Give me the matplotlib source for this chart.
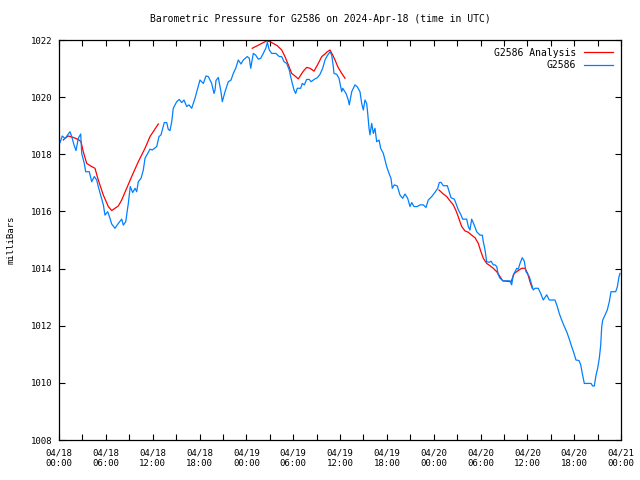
import datetime as dt
import numpy as np
import matplotlib
matplotlib.use('Agg')
import matplotlib.pyplot as plt
import matplotlib.dates as mdates

# hours after 2024-04-18 00:00 UTC, pressure in mb
obs_hours = [0.13, 0.42, 0.77, 1.41, 1.63, 1.92, 2.18, 2.47, 2.78, 2.91, 3.24, 3.42,
             3.88, 4.19, 4.52, 4.83, 5.03, 5.34, 5.68, 5.89, 6.24, 6.53, 6.75, 7.17,
             7.60, 8.03, 8.24, 8.55, 8.88, 9.13, 9.44, 9.74, 9.95, 10.16, 10.51, 10.80,
             11.02, 11.66, 11.95, 12.52, 12.81, 13.07, 13.23, 13.49, 13.80, 14.00, 14.22,
             14.44, 14.64, 15.08, 15.41, 15.72, 16.01, 16.36, 16.65, 17.00, 17.42, 17.77,
             18.06, 18.49, 18.83, 19.13, 19.56, 19.86, 19.99, 20.11, 20.41, 20.75, 20.92,
             21.27, 21.69, 22.04, 22.33, 22.64, 22.97, 23.32, 23.61, 24.12, 24.38, 24.56,
             24.89, 25.20, 25.53, 25.84, 26.17, 26.52, 26.69, 26.94, 27.25, 27.80, 28.22,
             28.53, 28.83, 29.17, 29.50, 29.68, 29.89, 30.11, 30.32, 30.53, 30.96, 31.17,
             31.43, 31.73, 32.07, 32.28, 32.80, 33.09, 33.44, 33.78, 34.08, 34.37, 34.72,
             34.94, 35.14, 35.23, 35.58, 35.87, 36.09, 36.22, 36.35, 36.64, 36.77, 37.06,
             37.19, 37.50, 37.92, 38.22, 38.56, 38.78, 38.99, 39.20, 39.42, 39.55, 39.72,
             39.84, 40.06, 40.27, 40.48, 40.70, 41.00, 41.21, 41.55, 41.77, 41.98, 42.28,
             42.53, 42.70, 42.96, 43.34, 43.69, 44.03, 44.33, 44.67, 44.97, 45.19, 45.48,
             45.90, 46.25, 46.67, 47.02, 47.31, 47.75, 48.17, 48.52, 48.72, 48.94, 49.23,
             49.75, 50.00, 50.22, 50.64, 50.86, 51.16, 51.46, 51.72, 52.23, 52.44, 52.65,
             52.87, 53.20, 53.51, 53.94, 54.23, 54.36, 54.58, 54.79, 55.13, 55.35, 55.64,
             55.86, 56.08, 56.28, 56.50, 56.92, 57.78, 57.99, 58.20, 58.42, 58.64, 58.84,
             59.06, 59.35, 59.61, 59.83, 60.25, 60.56, 60.76, 60.98, 61.40, 61.71, 62.04,
             62.48, 62.81, 63.54, 63.84, 64.09, 64.40, 64.74, 65.04, 65.34, 65.68, 65.98,
             66.23, 66.62, 66.84, 67.04, 67.30, 68.16, 68.37, 68.58, 68.80, 69.01, 69.22,
             69.40, 69.53, 69.66, 69.95, 70.24, 70.50, 70.72, 71.32, 71.53, 71.74, 71.87]
obs_mb = [1018.41, 1018.64, 1018.55, 1018.79, 1018.62, 1018.33, 1018.13, 1018.56, 1018.71,
          1018.03, 1017.68, 1017.39, 1017.39, 1017.04, 1017.22, 1017.10, 1016.87, 1016.57,
          1016.23, 1015.87, 1015.99, 1015.76, 1015.56, 1015.41, 1015.58, 1015.73, 1015.52,
          1015.64, 1016.28, 1016.87, 1016.66, 1016.81, 1016.69, 1017.04, 1017.16, 1017.45,
          1017.86, 1018.18, 1018.15, 1018.27, 1018.62, 1018.68, 1018.85, 1019.11, 1019.11,
          1018.87, 1018.83, 1019.14, 1019.61, 1019.84, 1019.92, 1019.81, 1019.90, 1019.67,
          1019.73, 1019.61, 1019.96, 1020.31, 1020.60, 1020.48, 1020.74, 1020.72, 1020.48,
          1020.13, 1020.25, 1020.58, 1020.69, 1020.19, 1019.84, 1020.19, 1020.54, 1020.60,
          1020.83, 1021.01, 1021.30, 1021.16, 1021.30, 1021.42, 1021.36, 1021.01, 1021.53,
          1021.47, 1021.33, 1021.36, 1021.53, 1021.73, 1021.92, 1021.65, 1021.53, 1021.53,
          1021.42, 1021.42, 1021.24, 1021.18, 1020.95, 1020.72, 1020.48, 1020.25, 1020.13,
          1020.31, 1020.31, 1020.48, 1020.43, 1020.62, 1020.62, 1020.54, 1020.64, 1020.68,
          1020.80, 1021.01, 1021.30, 1021.45, 1021.59, 1021.47, 1021.07, 1020.83, 1020.80,
          1020.66, 1020.36, 1020.19, 1020.31, 1020.19, 1020.13, 1019.90, 1019.73, 1020.19,
          1020.43, 1020.36, 1020.19, 1019.78, 1019.55, 1019.90, 1019.78, 1019.43, 1018.91,
          1018.68, 1019.08, 1018.73, 1018.91, 1018.44, 1018.50, 1018.21, 1018.03, 1017.80,
          1017.57, 1017.33, 1017.16, 1016.81, 1016.93, 1016.89, 1016.57, 1016.46, 1016.61,
          1016.46, 1016.17, 1016.31, 1016.17, 1016.17, 1016.23, 1016.23, 1016.14, 1016.40,
          1016.52, 1016.67, 1016.81, 1017.01, 1017.02, 1016.90, 1016.90, 1016.67, 1016.48,
          1016.43, 1016.28, 1016.05, 1015.90, 1015.73, 1015.73, 1015.47, 1015.35, 1015.73,
          1015.52, 1015.29, 1015.17, 1015.17, 1014.94, 1014.65, 1014.24, 1014.22, 1014.26,
          1014.13, 1014.13, 1014.07, 1013.78, 1013.66, 1013.57, 1013.57, 1013.43, 1013.78,
          1013.89, 1014.01, 1013.98, 1014.18, 1014.38, 1014.26, 1013.89, 1013.72, 1013.43,
          1013.25, 1013.31, 1013.31, 1013.13, 1012.90, 1013.08, 1012.90, 1012.90, 1012.67,
          1012.43, 1012.20, 1011.97, 1011.79, 1011.56, 1011.27, 1011.03, 1010.80, 1010.78,
          1010.63, 1010.33, 1009.98, 1009.98, 1009.89, 1009.89, 1010.27, 1010.51, 1010.86,
          1011.32, 1011.97, 1012.20, 1012.37, 1012.55, 1012.84, 1013.19, 1013.19, 1013.36,
          1013.71, 1013.83]

# analysis runs (three separate pieces)
ana1_hours = [0.55, 0.77, 1.19, 1.83, 2.47, 2.82, 3.11, 3.55, 4.19, 4.61, 5.03, 5.68,
              6.32, 6.75, 7.17, 7.60, 8.03, 8.67, 9.31, 10.16, 11.02, 11.66, 12.72]
ana1_mb = [1018.50, 1018.56, 1018.64, 1018.59, 1018.52, 1018.44, 1018.09, 1017.68,
           1017.57, 1017.51, 1017.10, 1016.57, 1016.17, 1016.03, 1016.11, 1016.19,
           1016.40, 1016.81, 1017.22, 1017.74, 1018.21, 1018.62, 1019.06]
ana2_hours = [24.76, 25.33, 25.97, 26.61, 27.03, 27.45, 27.97, 28.53, 28.95, 29.38,
              29.81, 30.23, 30.66, 31.30, 31.73, 32.16, 32.67, 33.22, 33.66, 34.08,
              34.37, 34.72, 35.07, 35.36, 35.71, 36.13, 36.64]
ana2_mb = [1021.71, 1021.79, 1021.88, 1021.97, 1021.94, 1021.88, 1021.80, 1021.65,
           1021.42, 1021.13, 1020.83, 1020.74, 1020.64, 1020.91, 1021.04, 1021.01,
           1020.91, 1021.18, 1021.42, 1021.51, 1021.59, 1021.65, 1021.47, 1021.30,
           1021.07, 1020.87, 1020.66]
ana3_hours = [48.68, 49.23, 49.67, 50.09, 50.51, 50.82, 51.08, 51.37, 51.59, 52.01,
              52.44, 52.87, 53.30, 53.72, 54.03, 54.36, 54.79, 55.22, 55.64, 56.08,
              56.50, 56.84, 57.91, 58.33, 58.77, 59.28, 59.70, 60.04, 60.34, 60.63]
ana3_mb = [1016.75, 1016.61, 1016.52, 1016.37, 1016.23, 1016.05, 1015.87, 1015.64,
           1015.47, 1015.32, 1015.27, 1015.17, 1015.08, 1014.88, 1014.61, 1014.36,
           1014.18, 1014.10, 1014.01, 1013.89, 1013.72, 1013.57, 1013.54, 1013.83,
           1013.92, 1014.01, 1014.01, 1013.83, 1013.54, 1013.31]

start = dt.datetime(2024, 4, 18)


def to_time(hours):
    return [start + dt.timedelta(hours=h) for h in hours]


plt.rcParams['font.family'] = 'DejaVu Sans Mono'
plt.rcParams['font.size'] = 6.5

fig = plt.figure(figsize=(6.4, 4.8), dpi=100)
ax = fig.add_axes([59 / 640, 40 / 480, 562 / 640, 400 / 480])

# analysis pieces, each drawn on its own, one legend entry
pieces = [(ana1_hours, ana1_mb), (ana2_hours, ana2_mb), (ana3_hours, ana3_mb)]
for i, (hh, vv) in enumerate(pieces):
    ax.plot(to_time(hh), vv, color='#ff0000', lw=0.9,
            label='G2586 Analysis' if i == 0 else None)
ax.plot(to_time(obs_hours), obs_mb, color='#0080ff', lw=0.9, label='G2586')

ax.set_xlim(start, start + dt.timedelta(hours=72))
ax.set_ylim(1008, 1022)
ax.set_yticks(np.arange(1008, 1023, 2))
ax.xaxis.set_major_locator(mdates.HourLocator(byhour=range(0, 24, 6)))
ax.xaxis.set_minor_locator(mdates.HourLocator(byhour=range(0, 24, 3)))
ax.xaxis.set_major_formatter(mdates.DateFormatter('%m/%d\n%H:%M'))
ax.tick_params(which='both', direction='in', top=True, right=True, width=0.8)
ax.tick_params(which='major', length=4, pad=5)
ax.tick_params(which='minor', length=4)
ax.tick_params(axis='x', pad=6)
for s in ax.spines.values():
    s.set_linewidth(0.9)

ax.set_ylabel('milliBars', labelpad=11)
fig.text(0.5, 1 - 19 / 480, 'Barometric Pressure for G2586 on 2024-Apr-18 (time in UTC)',
         ha='center', va='center', fontsize=7)
ax.legend(loc='upper right', frameon=False, markerfirst=False, handlelength=3.0,
          borderaxespad=0.6, borderpad=0.2, labelspacing=0.25, fontsize=7)

fig.savefig('out.png')
